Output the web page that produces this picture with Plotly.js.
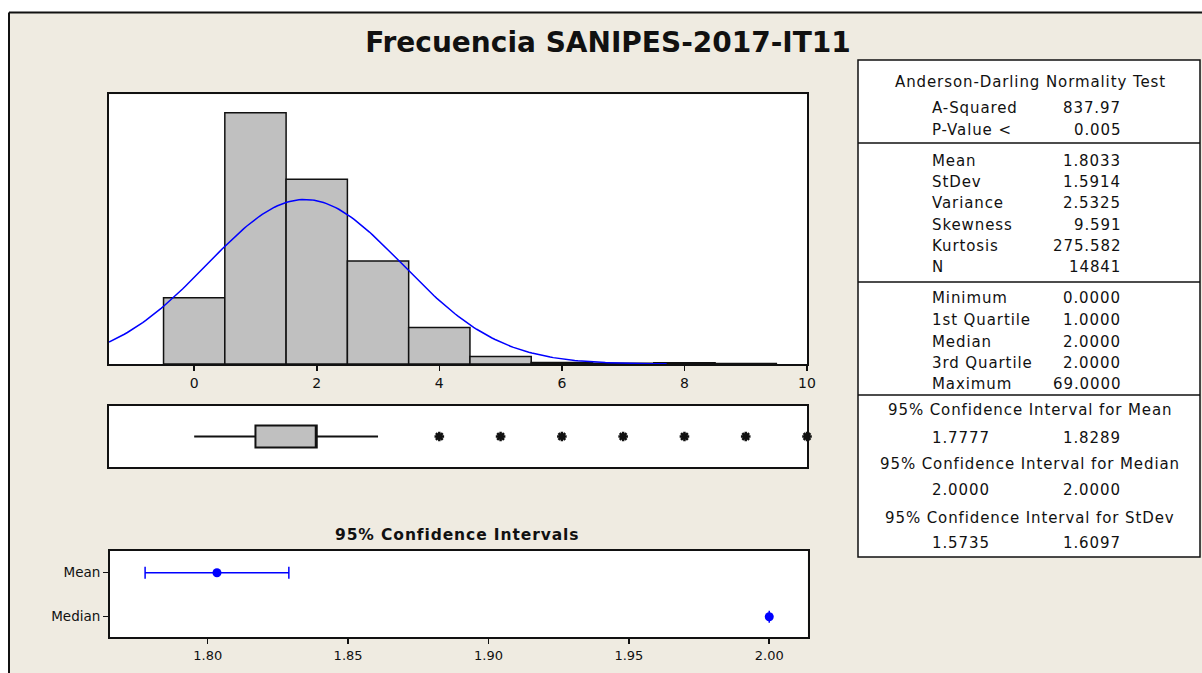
<!DOCTYPE html>
<html><head><meta charset="utf-8">
<script src="https://cdn.plot.ly/plotly-3.0.1.min.js"></script>
<style>html,body{margin:0;padding:0;background:#fff}#chart{width:1202px;height:673px}
.annotation-text{letter-spacing:0.9px}</style>
</head><body><div id="chart"></div>
<script>
// ---------- data ----------
const chartTitle = 'Frecuencia SANIPES-2017-IT11';
const binCenters = [0, 1, 2, 3, 4, 5, 6, 7, 8, 9];
const binCounts = [1500, 5680, 4180, 2330, 825, 170, 35, 15, 30, 10];
const sampleMean = 1.8033;
const sampleStDev = 1.5914;
const sampleN = 14841;
const boxQ1 = 1, boxMedian = 2, boxQ3 = 2, boxLowerWhisker = 0, boxUpperWhisker = 3;
const outlierValues = [4, 5, 6, 7, 8, 9, 10];
const ciLabels = ['Mean', 'Median'];
const ciCenters = [1.8033, 2.0];
const ciLower = [1.7777, 2.0];
const ciUpper = [1.8289, 2.0];
const histTicks = [0, 2, 4, 6, 8, 10];
const ciTicks = [1.80, 1.85, 1.90, 1.95, 2.00];
const ciPanelTitle = '95% Confidence Intervals';
const adHeader = 'Anderson-Darling Normality Test';
const adLabels = ['A-Squared', 'P-Value <'];
const adValues = ['837.97', '0.005'];
const descLabels = ['Mean', 'StDev', 'Variance', 'Skewness', 'Kurtosis', 'N'];
const descValues = ['1.8033', '1.5914', '2.5325', '9.591', '275.582', '14841'];
const quantLabels = ['Minimum', '1st Quartile', 'Median', '3rd Quartile', 'Maximum'];
const quantValues = ['0.0000', '1.0000', '2.0000', '2.0000', '69.0000'];
const ciTableHeaders = ['95% Confidence Interval for Mean', '95% Confidence Interval for Median', '95% Confidence Interval for StDev'];
const ciTableLow = ['1.7777', '2.0000', '1.5735'];
const ciTableHigh = ['1.8289', '2.0000', '1.6097'];

// ---------- helpers ----------
const W = 1202, H = 673;
const px = x => x / W;
const py = y => 1 - y / H;
const FONT = 'DejaVu Sans';
const INK = '#111111';

// fitted normal curve (from the sample mean / stdev, scaled to counts)
const curveX = [], curveY = [];
for (let i = 0; i <= 182; i++) {
  const x = -1.39 + i * 0.05;
  const z = (x - sampleMean) / sampleStDev;
  curveX.push(x);
  curveY.push(sampleN * Math.exp(-0.5 * z * z) / (sampleStDev * Math.sqrt(2 * Math.PI)));
}

const traces = [
  {type: 'bar', x: binCenters, y: binCounts, width: 1, xaxis: 'x', yaxis: 'y',
   marker: {color: '#C0C0C0', line: {color: INK, width: 1.5}}, hoverinfo: 'skip'},
  {type: 'scatter', mode: 'lines', x: curveX, y: curveY, xaxis: 'x', yaxis: 'y',
   line: {color: '#0000FF', width: 1.5}, hoverinfo: 'skip'},
  {type: 'box', orientation: 'h', y: [0], q1: [boxQ1], median: [boxMedian], q3: [boxQ3],
   lowerfence: [boxLowerWhisker], upperfence: [boxUpperWhisker], xaxis: 'x2', yaxis: 'y2',
   fillcolor: '#C0C0C0', line: {color: INK, width: 2}, whiskerwidth: 0, width: 0.72, boxpoints: false, hoverinfo: 'skip'},
  {type: 'scatter', mode: 'markers', x: outlierValues, y: outlierValues.map(() => 0), xaxis: 'x2', yaxis: 'y2',
   marker: {symbol: 'asterisk-open', size: 8, color: INK, line: {color: INK, width: 2.5}}, cliponaxis: false, hoverinfo: 'skip'},
  {type: 'scatter', mode: 'markers', x: ciCenters, y: [1, 0], xaxis: 'x3', yaxis: 'y3',
   marker: {color: '#0000FF', size: 9},
   error_x: {type: 'data', symmetric: false,
     array: ciCenters.map((c, i) => ciUpper[i] - c),
     arrayminus: ciCenters.map((c, i) => c - ciLower[i]),
     color: '#0000FF', thickness: 1.5, width: 6},
   cliponaxis: false, hoverinfo: 'skip'}
];

const frameAxis = {showline: true, mirror: true, linecolor: INK, linewidth: 2, showgrid: false, zeroline: false};
const tickFont = {family: FONT, size: 14, color: INK};

const annotations = [];
annotations.push({xref: 'paper', yref: 'paper', x: px(457), y: py(535), xanchor: 'center', yanchor: 'middle',
  text: '<b>' + ciPanelTitle + '</b>', showarrow: false, font: {family: FONT, size: 15.5, color: INK}});

// table text
const tabCenter = 1030, tabLabelX = 930, tabValueX = 1123;
const tabFont = {family: FONT, size: 15, color: INK};
function centerText(t, y) {
  annotations.push({xref: 'paper', yref: 'paper', x: px(tabCenter), y: py(y), xanchor: 'center', yanchor: 'middle',
    text: t, showarrow: false, font: tabFont});
}
function leftText(t, y) {
  annotations.push({xref: 'paper', yref: 'paper', x: px(tabLabelX), y: py(y), xanchor: 'left', yanchor: 'middle',
    text: t, showarrow: false, font: tabFont});
}
function rightText(t, y) {
  annotations.push({xref: 'paper', yref: 'paper', x: px(tabValueX), y: py(y), xanchor: 'right', yanchor: 'middle',
    text: t, showarrow: false, font: tabFont});
}
centerText(adHeader, 82);
const adRows = [108, 130];
adLabels.forEach((l, i) => { leftText(l, adRows[i]); rightText(adValues[i], adRows[i]); });
const descRows = [161, 182, 203, 225, 246, 267];
descLabels.forEach((l, i) => { leftText(l, descRows[i]); rightText(descValues[i], descRows[i]); });
const quantRows = [298, 320, 342, 363, 384];
quantLabels.forEach((l, i) => { leftText(l, quantRows[i]); rightText(quantValues[i], quantRows[i]); });
const ciHeadRows = [410, 464, 518], ciValRows = [438, 490, 543];
ciTableHeaders.forEach((h, i) => {
  centerText(h, ciHeadRows[i]);
  leftText(ciTableLow[i], ciValRows[i]);
  rightText(ciTableHigh[i], ciValRows[i]);
});

const shapes = [
  {type: 'rect', xref: 'paper', yref: 'paper', x0: 0, x1: 1, y0: py(12.5), y1: 1, fillcolor: '#FFFFFF', line: {width: 0}, layer: 'below'},
  {type: 'rect', xref: 'paper', yref: 'paper', x0: 0, x1: px(9), y0: 0, y1: 1, fillcolor: '#FFFFFF', line: {width: 0}, layer: 'below'},
  {type: 'line', xref: 'paper', yref: 'paper', x0: px(9), x1: 1.01, y0: py(12.5), y1: py(12.5), line: {color: INK, width: 2}},
  {type: 'line', xref: 'paper', yref: 'paper', x0: px(9), x1: px(9), y0: -0.01, y1: py(12.5), line: {color: INK, width: 2}},
  {type: 'rect', xref: 'paper', yref: 'paper', x0: px(858), x1: px(1200), y0: py(557), y1: py(60), fillcolor: '#FFFFFF', line: {color: INK, width: 1.5}},
];
[143, 282, 395].forEach(y => shapes.push({type: 'line', xref: 'paper', yref: 'paper', x0: px(858), x1: px(1200), y0: py(y), y1: py(y), line: {color: INK, width: 1.5}}));

const layout = {
  width: W, height: H,
  margin: {l: 0, r: 0, t: 0, b: 0},
  paper_bgcolor: '#EFEBE1', plot_bgcolor: '#FFFFFF',
  showlegend: false,
  font: {family: FONT, color: INK, size: 14},
  title: {text: '<b>' + chartTitle + '</b>', x: px(608), xanchor: 'center', y: py(42), yanchor: 'middle',
          font: {family: FONT, size: 28, color: INK}},
  xaxis: Object.assign({}, frameAxis, {domain: [px(109), px(807)], range: [-1.39, 10.0], anchor: 'y',
    tickvals: histTicks, ticks: 'outside', ticklen: 5, tickwidth: 1.5, tickcolor: INK, tickfont: tickFont}),
  yaxis: Object.assign({}, frameAxis, {domain: [py(364), py(94.3)], range: [0, 6100], anchor: 'x',
    showticklabels: false, ticks: ''}),
  xaxis2: Object.assign({}, frameAxis, {domain: [px(109), px(807)], range: [-1.39, 10.0], anchor: 'y2',
    showticklabels: false, ticks: ''}),
  yaxis2: Object.assign({}, frameAxis, {domain: [py(467), py(406)], range: [-1, 1], anchor: 'x2',
    showticklabels: false, ticks: ''}),
  xaxis3: Object.assign({}, frameAxis, {domain: [px(110), px(807.7)], range: [1.7652, 2.0137], anchor: 'y3',
    tickvals: ciTicks, ticktext: ciTicks.map(v => v.toFixed(2)), ticks: 'outside', ticklen: 5, tickwidth: 1.5,
    tickcolor: INK, tickfont: {family: FONT, size: 13, color: INK}}),
  yaxis3: Object.assign({}, frameAxis, {domain: [py(637), py(551)], range: [-0.461, 1.493], anchor: 'x3',
    tickvals: [1, 0], ticktext: ciLabels, ticks: 'outside', ticklen: 5, tickwidth: 1.5, tickcolor: INK,
    tickfont: {family: FONT, size: 13.5, color: INK}}),
  shapes: shapes,
  annotations: annotations
};

Plotly.newPlot('chart', traces, layout, {staticPlot: true, displayModeBar: false});
</script>
</body></html>
